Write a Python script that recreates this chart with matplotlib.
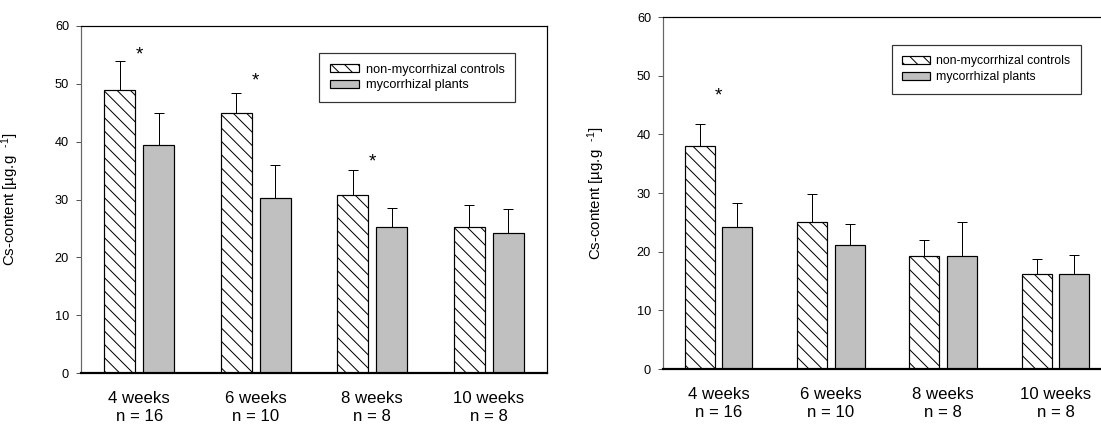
import numpy as np
import matplotlib
matplotlib.use("Agg")
import matplotlib.pyplot as plt

# ---- data ----
weeks = ['4 weeks', '6 weeks', '8 weeks', '10 weeks']
n_labels = ['n = 16', 'n = 10', 'n = 8', 'n = 8']

left_ctrl = [49.0, 45.0, 30.8, 25.2]
left_ctrl_err = [5.0, 3.35, 4.25, 3.8]
left_myc = [39.5, 30.2, 25.2, 24.2]
left_myc_err = [5.5, 5.7, 3.25, 4.1]
left_stars = [55.0, 50.5, 36.5, np.nan]

right_ctrl = [37.95, 25.05, 19.3, 16.25]
right_ctrl_err = [3.85, 4.85, 2.75, 2.5]
right_myc = [24.15, 21.2, 19.2, 16.25]
right_myc_err = [4.2, 3.5, 5.8, 3.2]
right_stars = [46.5, np.nan, np.nan, np.nan]

yticks = [0, 10, 20, 30, 40, 50, 60]
legend_labels = ['non-mycorrhizal controls', 'mycorrhizal plants']

# ---- style ----
DPI = 80
W, H = 1101, 425
def pt(px):
    return px * 72.0 / DPI

plt.rcParams['font.family'] = ['Liberation Sans', 'DejaVu Sans']
plt.rcParams['mathtext.fontset'] = 'custom'
plt.rcParams['mathtext.rm'] = 'Liberation Sans'
plt.rcParams['mathtext.it'] = 'Liberation Sans'
plt.rcParams['hatch.linewidth'] = pt(1.0)
plt.rcParams['hatch.color'] = 'black'

fig = plt.figure(figsize=(W / DPI, H / DPI), dpi=DPI)

def panel(rect, xlim, ctrl, cerr, myc, merr, stars, ylabel_x, leg_anchor, show_right, leg_px):
    ax = fig.add_axes(rect)
    x = np.arange(len(weeks))
    bw = 0.267
    off = 0.167
    zeros = np.zeros(len(weeks))
    ax.errorbar(x - off, ctrl, yerr=[zeros, cerr], fmt='none', ecolor='black',
                elinewidth=pt(1.0), capsize=pt(5), capthick=pt(1.0), zorder=1)
    ax.errorbar(x + off, myc, yerr=[zeros, merr], fmt='none', ecolor='black',
                elinewidth=pt(1.0), capsize=pt(5), capthick=pt(1.0), zorder=1)
    b1 = ax.bar(x - off, ctrl, bw, color='white', edgecolor='black', hatch='\\\\',
                linewidth=pt(1.2), zorder=2, label=legend_labels[0])
    b2 = ax.bar(x + off, myc, bw, color='#c0c0c0', edgecolor='black',
                linewidth=pt(1.2), zorder=2, label=legend_labels[1])
    for xi, s in zip(x, stars):
        if not np.isnan(s):
            ax.text(xi, s, '*', ha='center', va='center', fontsize=pt(19), color='black')
    ax.set_xlim(*xlim)
    ax.set_ylim(0, 60)
    ax.set_yticks(yticks)
    ax.set_xticks(x)
    ax.set_xticklabels([f'{w}\n{n}' for w, n in zip(weeks, n_labels)],
                       fontsize=pt(16.8), linespacing=1.25)
    ax.tick_params(axis='x', length=0, pad=pt(18))
    ax.tick_params(axis='y', direction='out', length=pt(5), width=pt(1),
                   color='#555555', pad=pt(7), labelsize=pt(12.8))
    ax.spines['left'].set_color('#666666')
    ax.spines['left'].set_linewidth(pt(1.2))
    ax.spines['bottom'].set_linewidth(pt(2.2))
    ax.spines['top'].set_linewidth(pt(1.2))
    ax.spines['right'].set_linewidth(pt(1.2))
    ax.spines['right'].set_visible(show_right)
    ax.set_ylabel('Cs-content [µg.g  $^{\\text{-1}}$]', fontsize=pt(15))
    ax.yaxis.set_label_coords(ylabel_x, 0.5)
    leg = ax.legend(handles=[b1, b2], loc='upper left', bbox_to_anchor=leg_anchor,
                    borderaxespad=0, fancybox=False, frameon=True, edgecolor='black',
                    fontsize=pt(leg_px), handlelength=2.3, handleheight=0.65,
                    handletextpad=0.5, labelspacing=0.3, borderpad=0.85)
    leg.get_frame().set_linewidth(pt(1.2))
    return ax

# left panel: axes from x=81..547, y=26..373 px
lx0, lx1, ly0, ly1 = 81, 547, 26, 373
panel([lx0 / W, 1 - ly1 / H, (lx1 - lx0) / W, (ly1 - ly0) / H], (-0.5, 3.5),
      left_ctrl, left_ctrl_err, left_myc, left_myc_err, left_stars,
      (20.5 - lx0) / (lx1 - lx0), ((319 - lx0) / (lx1 - lx0), (ly1 - 52.7) / (ly1 - ly0)), True, 12.8)

# right panel: axes from x=663..1101 (clipped), y=17..369 px
rx0, rx1, ry0, ry1 = 663, 1101, 17, 369
panel([rx0 / W, 1 - ry1 / H, (rx1 - rx0) / W, (ry1 - ry0) / H], (-0.495, -0.495 + (rx1 - rx0) / 112.3),
      right_ctrl, right_ctrl_err, right_myc, right_myc_err, right_stars,
      (607 - rx0) / (rx1 - rx0), ((891.5 - rx0) / (rx1 - rx0), (ry1 - 45) / (ry1 - ry0)), False, 12.3)

fig.savefig('out.png', dpi=DPI)
